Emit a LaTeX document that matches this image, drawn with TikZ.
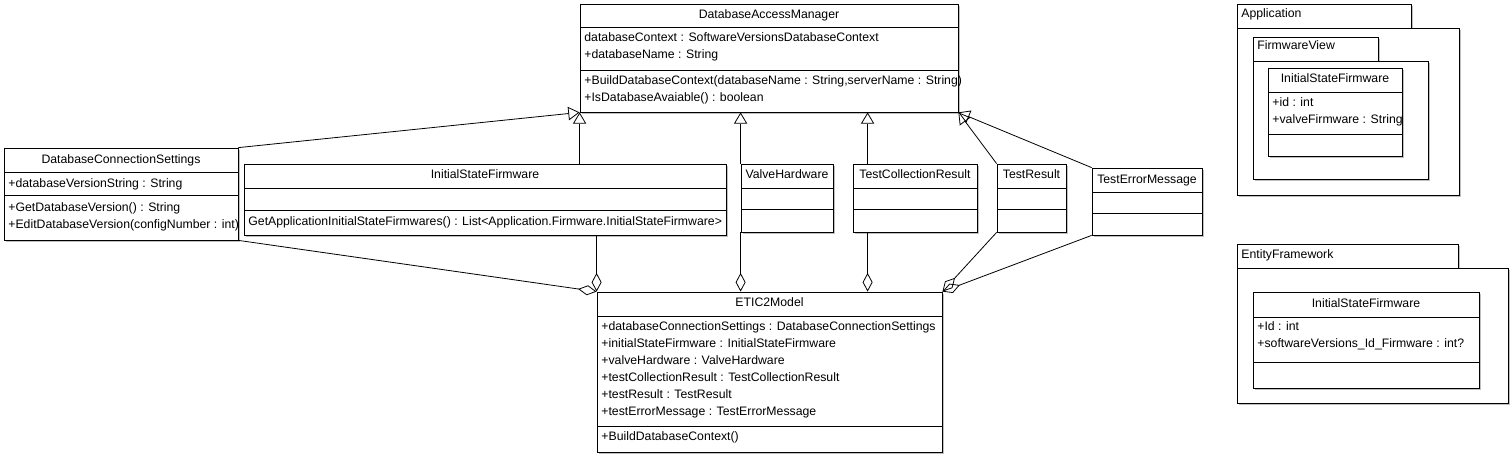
\documentclass[tikz,border=0pt]{standalone}
\usepackage{fontspec}
\setmainfont{Liberation Sans}
\usetikzlibrary{arrows.meta, fit, calc, shadows}

\begin{document}
\begin{tikzpicture}[x=0.75pt, y=-0.75pt, line width=0.6pt,
	font=\fontsize{9.2}{10}\selectfont,
	box/.style={draw, fill=white, inner sep=0pt,
		drop shadow={shadow xshift=1.2pt, shadow yshift=-1.2pt, fill=black!25, opacity=1}},
	cname/.style={anchor=base, inner sep=0pt},
	member/.style={anchor=base west, inner sep=0pt},
	gen/.style={-{Triangle[open, length=8.5pt, width=10pt]}},
	aggr/.style={-{Diamond[open, length=14pt, width=7.5pt]}}]

	\useasboundingbox (0,0) rectangle (1512,456);

	% Class boxes
	\node[box, fit={(580,4) (958,112)}] (dam) {};
	\node[box, fit={(4,148) (238,240)}] (dcs) {};
	\node[box, fit={(244,164) (726,235)}] (isf) {};
	\node[box, fit={(741,164) (833,232)}] (vh) {};
	\node[box, fit={(853,164) (977,232)}] (tcr) {};
	\node[box, fit={(997,164) (1066,232)}] (tr) {};
	\node[box, fit={(1092,168) (1202,235)}] (tem) {};
	\node[box, fit={(597,292) (942,452)}] (etic) {};

	% Compartment lines
	\draw (580,27) -- (958,27);
	\draw (580,70) -- (958,70);
	\draw (4,172) -- (238,172);
	\draw (4,195) -- (238,195);
	\draw (244,188) -- (726,188);
	\draw (244,210) -- (726,210);
	\draw (741,188) -- (833,188);
	\draw (741,209) -- (833,209);
	\draw (853,188) -- (977,188);
	\draw (853,209) -- (977,209);
	\draw (997,188) -- (1066,188);
	\draw (997,209) -- (1066,209);
	\draw (1092,192) -- (1202,192);
	\draw (1092,213) -- (1202,213);
	\draw (597,316) -- (942,316);
	\draw (597,426) -- (942,426);

	% Class texts
	\node[cname] (damName) at (769,18.5) {DatabaseAccessManager};
	\node[member] (damA1) at (584,42) {databaseContext : SoftwareVersionsDatabaseContext};
	\node[member] (damA2) at (584,59) {+databaseName : String};
	\node[member] (damM1) at (584,85) {+BuildDatabaseContext(databaseName : String,serverName : String)};
	\node[member] (damM2) at (584,102) {+IsDatabaseAvaiable() : boolean};

	\node[cname] (dcsName) at (121,163) {DatabaseConnectionSettings};
	\node[member] (dcsA1) at (8,187) {+databaseVersionString : String};
	\node[member] (dcsM1) at (8,211) {+GetDatabaseVersion() : String};
	\node[member] (dcsM2) at (8,228) {+EditDatabaseVersion(configNumber : int)};

	\node[cname] (isfName) at (485,179) {InitialStateFirmware};
	\node[member] (isfM1) at (248,225) {GetApplicationInitialStateFirmwares() : List<Application.Firmware.InitialStateFirmware>};

	\node[cname] (vhName) at (787,179) {ValveHardware};
	\node[cname] (tcrName) at (915,179) {TestCollectionResult};
	\node[cname] (trName) at (1031.5,179) {TestResult};
	\node[cname] (temName) at (1147,183) {TestErrorMessage};

	\node[cname] (eticName) at (769.5,306.5) {ETIC2Model};
	\node[member] (eticA1) at (601,330.5) {+databaseConnectionSettings : DatabaseConnectionSettings};
	\node[member] (eticA2) at (601,347.5) {+initialStateFirmware : InitialStateFirmware};
	\node[member] (eticA3) at (601,364.5) {+valveHardware : ValveHardware};
	\node[member] (eticA4) at (601,381.5) {+testCollectionResult : TestCollectionResult};
	\node[member] (eticA5) at (601,398.5) {+testResult : TestResult};
	\node[member] (eticA6) at (601,415.5) {+testErrorMessage : TestErrorMessage};
	\node[member] (eticM1) at (601,440.5) {+BuildDatabaseContext()};

	% Packages
	\node[box, fit={(1237,4) (1411,28)}] (appTab) {};
	\node[box, fit={(1237,28) (1459,195)}] (app) {};
	\node[member] (appName) at (1241,18) {Application};
	\node[box, fit={(1253,37) (1378,61)}] (fvTab) {};
	\node[box, fit={(1253,61) (1428,179)}] (fv) {};
	\node[member] (fvName) at (1257,50) {FirmwareView};
	\node[box, fit={(1268,68) (1402,156)}] (appIsf) {};
	\draw (1268,92) -- (1402,92);
	\draw (1268,134) -- (1402,134);
	\node[cname] (appIsfName) at (1335,83) {InitialStateFirmware};
	\node[member] (appIsfA1) at (1272,107) {+id : int};
	\node[member] (appIsfA2) at (1272,124) {+valveFirmware : String};

	\node[box, fit={(1237,244) (1458,268)}] (efTab) {};
	\node[box, fit={(1237,268) (1508,403)}] (ef) {};
	\node[member] (efName) at (1241,258) {EntityFramework};
	\node[box, fit={(1253,292) (1479,388)}] (efIsf) {};
	\draw (1253,317) -- (1479,317);
	\draw (1253,362) -- (1479,362);
	\node[cname] (efIsfName) at (1366,307) {InitialStateFirmware};
	\node[member] (efIsfA1) at (1257,330) {+Id : int};
	\node[member] (efIsfA2) at (1257,347) {+softwareVersions\_Id\_Firmware : int?};

	% Generalizations
	\coordinate (tcrUp) at ($(tcr.north west)+(15,0)$);
	\coordinate (tcrDown) at ($(tcr.south west)+(15,0)$);
	\draw[gen] (dcs.north east) -- (dam.south west);
	\draw[gen] (isf.north -| dam.south west) -- (dam.south west);
	\draw[gen] (vh.north west) -- (vh.north west |- dam.south);
	\draw[gen] (tcrUp) -- (tcrUp |- dam.south);
	\draw[gen] (tr.north west) -- (dam.south east);
	\draw[gen] (tem.north west) -- (dam.south east);

	% Aggregations
	\draw[aggr] (dcs.south east) -- (etic.north west);
	\draw[aggr] (isf.south -| etic.north west) -- (etic.north west);
	\draw[aggr] (vh.south west) -- (vh.south west |- etic.north);
	\draw[aggr] (tcrDown) -- (tcrDown |- etic.north);
	\draw[aggr] (tr.south west) -- (etic.north east);
	\draw[aggr] (tem.south west) -- (etic.north east);
\end{tikzpicture}
\end{document}
